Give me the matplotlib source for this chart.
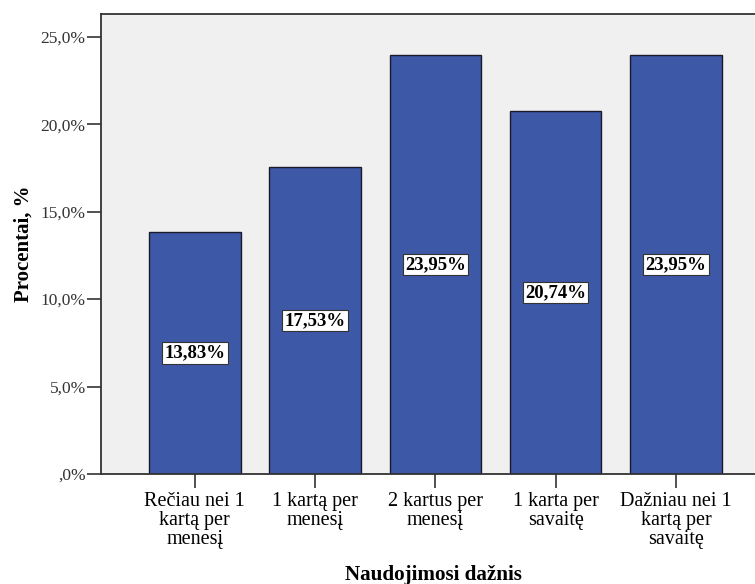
import matplotlib
matplotlib.use('Agg')
import matplotlib.pyplot as plt
from matplotlib.ticker import FuncFormatter, MultipleLocator

plt.rcParams['font.family'] = ['Liberation Serif', 'DejaVu Serif']

# usage frequency categories and their shares (%)
categories = ['Rečiau nei 1\nkartą per\nmenesį', '1 kartą per\nmenesį',
              '2 kartus per\nmenesį', '1 karta per\nsavaitę',
              'Dažniau nei 1\nkartą per\nsavaitę']
percents = [13.83, 17.53, 23.95, 20.74, 23.95]
value_labels = ['13,83%', '17,53%', '23,95%', '20,74%', '23,95%']

fig = plt.figure(figsize=(7.55, 5.84), dpi=100)
ax = fig.add_axes([101/755, 110/584, 1 - 101/755 + 0.002, 460/584])
ax.set_facecolor('#f0f0f0')

x = range(len(categories))
ax.bar(x, percents, width=0.76, color='#3e58a8', edgecolor='#1a1a2a', linewidth=1.0, zorder=2)

for xi, v, lab in zip(x, percents, value_labels):
    ax.text(xi, v / 2, lab, ha='center', va='center', fontsize=13.5, fontweight='bold',
            bbox=dict(boxstyle='square,pad=0.12', facecolor='white', edgecolor='#333333', linewidth=0.8),
            zorder=3)

ax.set_xlim(-0.78, 4.67)
ax.set_ylim(0, 26.3)
ax.yaxis.set_major_locator(MultipleLocator(5))


def pct_fmt(v, pos):
    if v == 0:
        return ',0%'
    return ('%.1f%%' % v).replace('.', ',')


ax.yaxis.set_major_formatter(FuncFormatter(pct_fmt))
ax.set_xticks(list(x))
ax.set_xticklabels(categories, fontsize=14.5, linespacing=1.0)
ax.tick_params(axis='y', labelsize=12.5, colors='#333333', length=10, width=1.2, direction='out', pad=1)
ax.tick_params(axis='x', length=10, width=1.2, direction='out', pad=3, colors='#333333', labelcolor='black')

for side in ['left', 'bottom', 'top']:
    ax.spines[side].set_linewidth(1.3)
    ax.spines[side].set_color('#333333')
ax.spines['right'].set_visible(False)

ax.set_ylabel('Procentai, %', fontsize=15, fontweight='bold')
ax.yaxis.set_label_coords(-67 / 654, 0.5)
ax.set_xlabel('Naudojimosi dažnis', fontsize=15.2, fontweight='bold', va='center')
ax.xaxis.set_label_coords((433 - 101) / 654, -101 / 460)

fig.savefig('out.png', dpi=100, facecolor='white')
